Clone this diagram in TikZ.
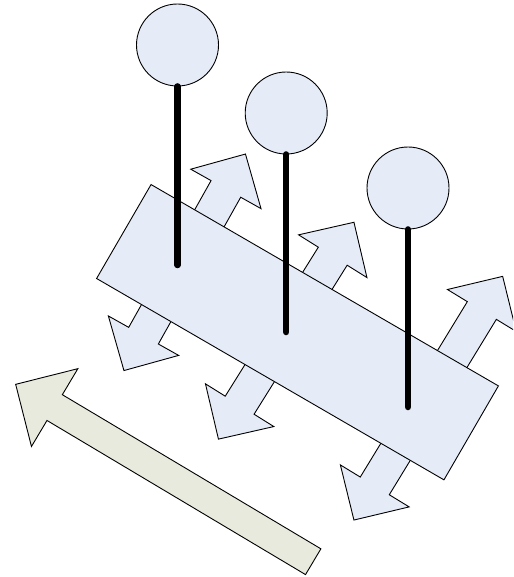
\documentclass[tikz,border=0pt]{standalone}
\definecolor{paleblue}{HTML}{E5ECF7}
\definecolor{palegreen}{HTML}{E8EADD}
\tikzset{
  outline/.style={draw=black, line width=0.9pt, line join=miter},
  bluefill/.style={outline, fill=paleblue},
  greenfill/.style={outline, fill=palegreen},
  stem/.style={line width=6.5pt, line cap=round},
}
% #1 cx, #2 cy, #3 angle, #4 total length, #5 name
\newcommand\mydblarrow[5]{%
  \begin{scope}[shift={(#1,#2)}, rotate=#3]
    \pgfmathsetmacro\Hh{#4/2}
    \pgfmathsetmacro\Hb{#4/2-40}
    \draw[bluefill] (\Hh,0) -- (\Hb,40.3) -- (\Hb,17) -- (-\Hb,17) -- (-\Hb,40.3)
      -- (-\Hh,0) -- (-\Hb,-40.3) -- (-\Hb,-17) -- (\Hb,-17) -- (\Hb,-40.3) -- cycle;
    \coordinate (#5) at (0,0);
  \end{scope}}
\begin{document}
\begin{tikzpicture}[x=1pt, y=-1pt]
\useasboundingbox (0,0) rectangle (513,577);
\clip (0,0) rectangle (513,577);
% double arrows behind the plate
\mydblarrow{184.7}{262.3}{60.7}{248.3}{da1}
\mydblarrow{286.2}{330.7}{58}{255.7}{da2}
\mydblarrow{428.3}{398.2}{58.6}{285.5}{da3}
% plate
\node[bluefill, rectangle, rotate=-30.1, minimum width=401.5pt, minimum height=108.6pt, inner sep=0pt]
  (plate) at (297.5,332.2) {};
% big green arrow
\begin{scope}[shift={(313.2,561.7)}, rotate=149.2]
  \draw[greenfill] (0,15) -- (301,15) -- (301,45.3) -- (346.4,0) -- (301,-45.3)
    -- (301,-15) -- (0,-15) -- cycle;
  \coordinate (ga) at (0,0);
\end{scope}
% balls
\node[bluefill, circle, minimum size=82pt, inner sep=0pt] (b1) at (177.5,45) {};
\node[bluefill, circle, minimum size=82pt, inner sep=0pt] (b2) at (286.2,113) {};
\node[bluefill, circle, minimum size=82pt, inner sep=0pt] (b3) at (408,188) {};
\coordinate (e1) at (177.5,265);
\coordinate (e2) at (286.2,332);
\coordinate (e3) at (408,407);
\draw[stem] (b1.south) -- (e1);
\draw[stem] (b2.south) -- (e2);
\draw[stem] (b3.south) -- (e3);
\end{tikzpicture}
\end{document}
